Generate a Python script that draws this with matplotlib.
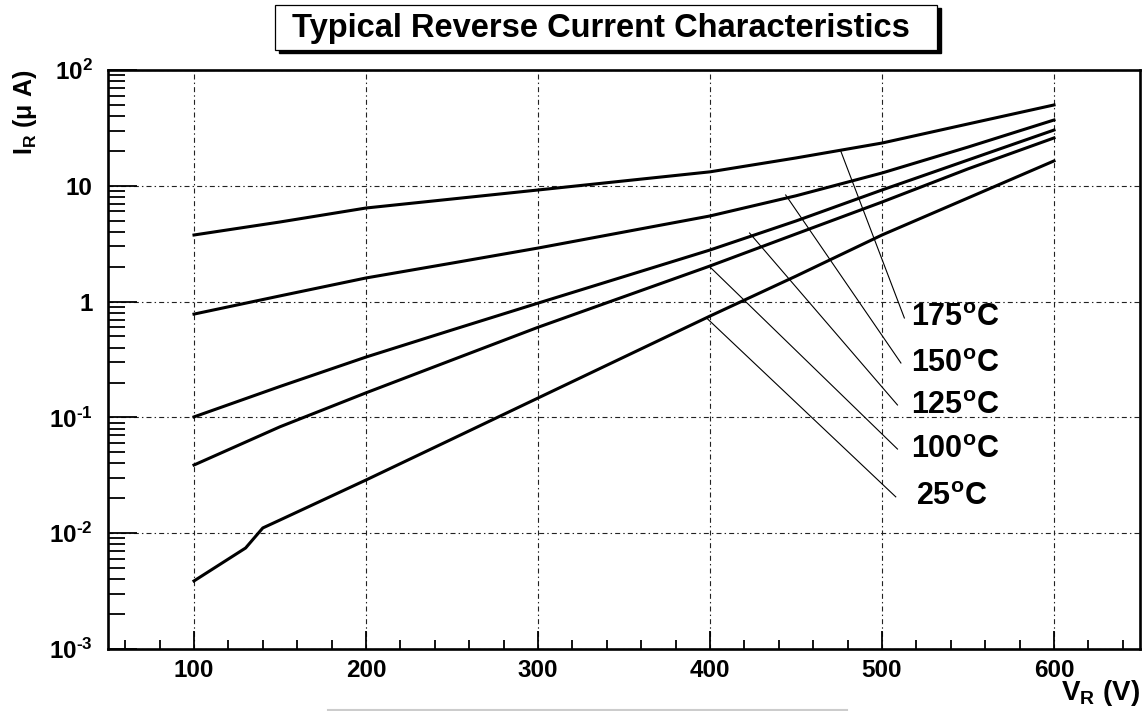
import numpy as np
import matplotlib
matplotlib.use("Agg")
import matplotlib.pyplot as plt
from matplotlib.ticker import LogLocator, NullFormatter, MultipleLocator
from matplotlib.patches import Rectangle
from matplotlib.lines import Line2D

plt.rcParams['font.family'] = ['Liberation Sans', 'DejaVu Sans']
plt.rcParams['font.weight'] = 'bold'
plt.rcParams['mathtext.fontset'] = 'custom'
plt.rcParams['mathtext.rm'] = 'Liberation Sans:bold'
plt.rcParams['mathtext.it'] = 'Liberation Sans:bold'
plt.rcParams['mathtext.bf'] = 'Liberation Sans:bold'

# DATA
voltage = [100, 150, 200, 250, 300, 400, 450, 500, 550, 600]
i_175 = [3.76, 4.87, 6.43, 7.69, 9.2, 13.2, 17.4, 23.4, 34.2, 49.9]
i_150 = [0.78, 1.12, 1.60, 2.15, 2.90, 5.49, 8.2, 12.9, 21.6, 37.0]
i_125 = [0.101, 0.185, 0.332, 0.569, 0.97, 2.79, 4.97, 9.2, 16.7, 30.3]
i_100 = [0.0388, 0.083, 0.163, 0.313, 0.60, 2.03, 3.84, 7.24, 14.0, 25.9]
voltage_25 = [100, 130, 140, 150, 200, 250, 300, 400, 450, 500, 550, 600]
i_25 = [0.00387, 0.00745, 0.0111, 0.0130, 0.0288, 0.065, 0.147, 0.75, 1.66, 3.76, 7.85, 16.4]

labels = ["175$^{o}$C", "150$^{o}$C", "125$^{o}$C", "100$^{o}$C", "25$^{o}$C"]
# leader line: start on curve (V, I) -> end near label (V, I)
leader_start = [(476, 20.0), (444, 8.33), (423, 3.91), (400, 1.99), (398, 0.722)]
leader_end = [(513, 0.722), (511, 0.295), (509, 0.128), (509, 0.0533), (508, 0.0206)]
label_pos = [(517, 0.72), (517, 0.29), (517, 0.125), (517, 0.052), (520, 0.0205)]

y_ticks = [1e-3, 1e-2, 1e-1, 1, 10, 100]
y_ticklabels = ["10$^{\u20103}$", "10$^{\u20102}$", "10$^{\u20101}$", "1", "10", "10$^{2}$"]
x_ticks = [100, 200, 300, 400, 500, 600]

# PLOTTING
fig = plt.figure(figsize=(11.45, 7.11), dpi=100)
ax = fig.add_axes([108 / 1145, 1 - 649 / 711, (1140 - 108) / 1145, (649 - 70) / 711])

for curve in [i_175, i_150, i_125, i_100]:
    ax.plot(voltage, curve, color='black', lw=2.2, zorder=3)
ax.plot(voltage_25, i_25, color='black', lw=2.2, zorder=3)

for s, e, lab, p in zip(leader_start, leader_end, labels, label_pos):
    ax.plot([s[0], e[0]], [s[1], e[1]], color='black', lw=0.8, zorder=3)
    ax.text(p[0], p[1], lab, fontsize=22, va='center', ha='left', zorder=4)

ax.set_yscale('log')
ax.set_xlim(50, 650)
ax.set_ylim(1e-3, 1e2)
ax.set_xticks(x_ticks, labels=[str(v) for v in x_ticks])
ax.set_yticks(y_ticks, labels=y_ticklabels)
ax.xaxis.set_minor_locator(MultipleLocator(20))
ax.yaxis.set_minor_locator(LogLocator(base=10, subs=np.arange(2, 10)))
ax.yaxis.set_minor_formatter(NullFormatter())

ax.tick_params(axis='both', which='both', direction='in', top=False, right=False,
               width=1.3, labelsize=17.5)
ax.tick_params(axis='x', which='major', length=13, pad=7)
ax.tick_params(axis='x', which='minor', length=6.5)
ax.tick_params(axis='y', which='major', length=21, pad=11)
ax.tick_params(axis='y', which='minor', length=12)

for sp in ax.spines.values():
    sp.set_linewidth(1.9)

ax.grid(True, which='major', color='#222222', lw=0.8, dashes=(4.5, 2.8, 1.3, 2.8))
ax.set_axisbelow(True)

# axis titles
fig.text(1140 / 1145, 1 - 700 / 711, "V$_R$ (V)", ha='right', va='baseline', fontsize=20)
fig.text(25 / 1145, 1 - 112 / 711, "I$_R$ (μ A)", rotation=90, ha='center', va='center',
         fontsize=18)

# title box with shadow
W, H = 1145, 711
fig.patches.append(Rectangle((279 / W, 1 - 53 / H), 662 / W, 45 / H, transform=fig.transFigure,
                             facecolor='black', edgecolor='black', zorder=1))
fig.patches.append(Rectangle((275 / W, 1 - 50 / H), 662 / W, 45 / H, transform=fig.transFigure,
                             facecolor='white', edgecolor='black', lw=0.9, zorder=2))
fig.text(601 / W, 1 - 28 / H, "Typical Reverse Current Characteristics", ha='center', va='center',
         fontsize=23.5, zorder=3)

# faint rule at the bottom of the page
fig.add_artist(Line2D([328 / W, 847 / W], [1 - 709.5 / H, 1 - 709.5 / H], color='#cccccc', lw=1.5))

fig.savefig("out.png", dpi=100)
